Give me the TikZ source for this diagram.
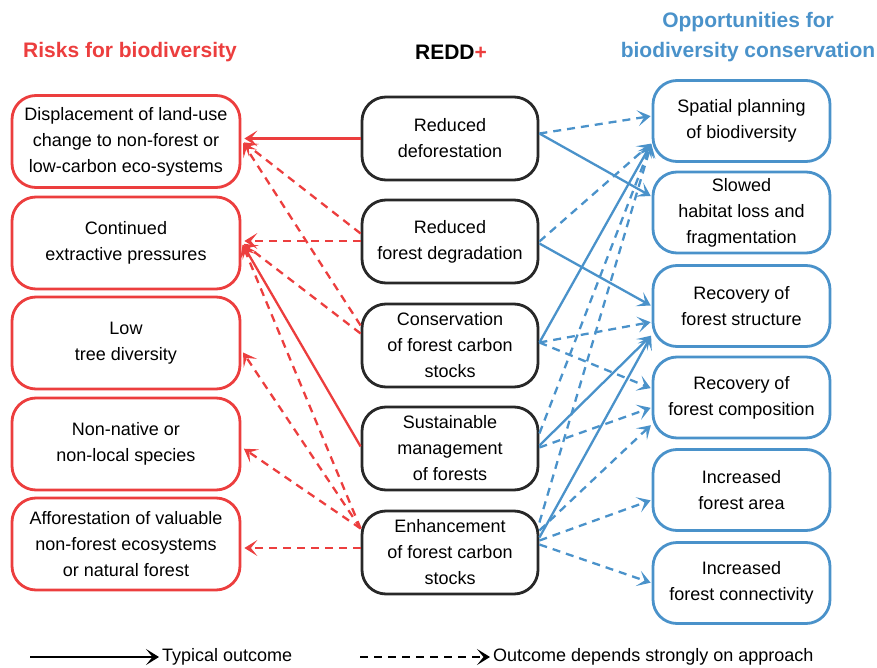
\documentclass[tikz,border=0pt]{standalone}
\usepackage{fontspec}
\setmainfont{Liberation Sans}
\usetikzlibrary{arrows.meta}

\definecolor{riskred}{RGB}{236,62,62}
\definecolor{oppblue}{RGB}{74,146,202}
\definecolor{boxgray}{RGB}{40,40,40}

\tikzset{
  box/.style={draw, line width=2.8pt, rounded corners=24pt, align=center, text=black,
    font=\fontsize{18}{26}\selectfont, inner sep=0pt},
  riskbox/.style={box, draw=riskred, minimum width=228pt, minimum height=92pt},
  reddbox/.style={box, draw=boxgray, minimum width=176pt, minimum height=83pt},
  oppbox/.style={box, draw=oppblue, minimum width=177pt, minimum height=81pt},
  headtip/.style={-{Stealth[length=13pt,width=16pt,inset=6.5pt]}},
  riskline/.style={headtip, riskred, line width=2.3pt, shorten >=3pt},
  oppline/.style={headtip, oppblue, line width=2.3pt, shorten >=1pt},
  maybe/.style={dash pattern=on 8pt off 6pt},
  heading/.style={font=\fontsize{21}{30}\selectfont\bfseries}
}

\begin{document}
\begin{tikzpicture}[x=1pt, y=1pt]
    \useasboundingbox (0,0) rectangle (877,-668);

    % column headings
    \node[heading, text=riskred] (riskhead) at (130,-52) {Risks for biodiversity};
    \node[heading] (reddhead) at (451,-52) {REDD\textcolor{riskred}{+}};
    \node[heading, text=oppblue, align=center] (opphead) at (748,-37) {Opportunities for\\biodiversity conservation};

    % risks
    \node[riskbox] (L1) at (126,-141.5) {Displacement of land-use\\change to non-forest or\\low-carbon eco-systems};
    \node[riskbox] (L2) at (126,-243) {Continued\\extractive pressures};
    \node[riskbox] (L3) at (126,-343) {Low\\tree diversity};
    \node[riskbox] (L4) at (126,-444) {Non-native or\\non-local species};
    \node[riskbox] (L5) at (126,-544) {Afforestation of valuable\\non-forest ecosystems\\or natural forest};

    % REDD+ activities
    \node[reddbox] (M1) at (450,-138.5) {Reduced\\deforestation};
    \node[reddbox] (M2) at (450,-241.5) {Reduced\\forest degradation};
    \node[reddbox] (M3) at (450,-345.5) {Conservation\\of forest carbon\\stocks};
    \node[reddbox] (M4) at (450,-448.5) {Sustainable\\management\\of forests};
    \node[reddbox] (M5) at (450,-552.5) {Enhancement\\of forest carbon\\stocks};

    % opportunities
    \node[oppbox] (R1) at (741.5,-121) {Spatial planning\\of biodiversity};
    \node[oppbox] (R2) at (741.5,-212.5) {Slowed\\habitat loss and\\fragmentation};
    \node[oppbox] (R3) at (741.5,-306) {Recovery of\\forest structure};
    \node[oppbox] (R4) at (741.5,-397.5) {Recovery of\\forest composition};
    \node[oppbox] (R5) at (741.5,-490) {Increased\\forest area};
    \node[oppbox] (R6) at (741.5,-583) {Increased\\forest connectivity};

    % towards the risks
    \draw[riskline] (M1.west) -- (M1.west -| L1.east);
    \draw[riskline, maybe] ([yshift=8pt]M2.west) -- ([yshift=1pt]L1.east);
    \draw[riskline, maybe] ([yshift=20pt]M3.west) -- ([yshift=1pt]L1.east);
    \draw[riskline, maybe] ([yshift=0.5pt]M2.west) -- ([yshift=0.5pt]M2.west -| L2.east);
    \draw[riskline, maybe] ([yshift=12pt]M3.west) -- ([yshift=1pt]L2.east);
    \draw[riskline] ([yshift=2pt]M4.west) -- ([yshift=1pt]L2.east);
    \draw[riskline, maybe] ([yshift=24pt]M5.west) -- ([yshift=1pt]L2.east);
    \draw[riskline, maybe] ([yshift=24pt]M5.west) -- ([yshift=-7pt]L3.east);
    \draw[riskline, maybe] ([yshift=24pt]M5.west) -- ([yshift=-3pt]L4.east);
    \draw[riskline, maybe] ([yshift=4.5pt]M5.west) -- ([yshift=4.5pt]M5.west -| L5.east);

    % towards the opportunities
    \draw[oppline, maybe] ([yshift=5pt]M1.east) -- ([yshift=5pt]R1.west);
    \draw[oppline] ([yshift=5pt]M1.east) -- ([yshift=16pt]R2.west);
    \draw[oppline, maybe] (M2.east) -- ([yshift=-22pt]R1.west);
    \draw[oppline] ([yshift=-2pt]M2.east) -- (R3.west);
    \draw[oppline] ([yshift=3pt]M3.east) -- ([yshift=-22pt]R1.west);
    \draw[oppline, maybe] ([yshift=3pt]M3.east) -- ([yshift=-16pt]R3.west);
    \draw[oppline, maybe] ([yshift=3pt]M3.east) -- ([yshift=9pt]R4.west);
    \draw[oppline, maybe] ([yshift=15pt]M4.east) -- ([yshift=-22pt]R1.west);
    \draw[oppline] ([yshift=3pt]M4.east) -- ([yshift=-29pt]R3.west);
    \draw[oppline, maybe] ([yshift=1pt]M4.east) -- ([yshift=-10pt]R4.west);
    \draw[oppline, maybe] ([yshift=30pt]M5.east) -- ([yshift=-22pt]R1.west);
    \draw[oppline] ([yshift=15pt]M5.east) -- ([yshift=-29pt]R3.west);
    \draw[oppline, maybe] ([yshift=22pt]M5.east) -- ([yshift=-27pt]R4.west);
    \draw[oppline, maybe] ([yshift=12pt]M5.east) -- ([yshift=-10pt]R5.west);
    \draw[oppline, maybe] ([yshift=8pt]M5.east) -- (R6.west);

    % legend
    \node[anchor=west, font=\fontsize{18}{22}\selectfont, inner sep=0pt] (typ) at (162,-657) {Typical outcome};
    \node[anchor=west, font=\fontsize{18}{22}\selectfont, inner sep=0pt] (dep) at (493,-657) {Outcome depends strongly on approach};
    \coordinate (typstart) at (30,-657);
    \coordinate (depstart) at (360,-657);
    \draw[headtip, line width=2.3pt, shorten >=3pt] (typstart) -- (typ.west);
    \draw[headtip, maybe, line width=2.3pt, shorten >=3pt] (depstart) -- (dep.west);
\end{tikzpicture}
\end{document}
